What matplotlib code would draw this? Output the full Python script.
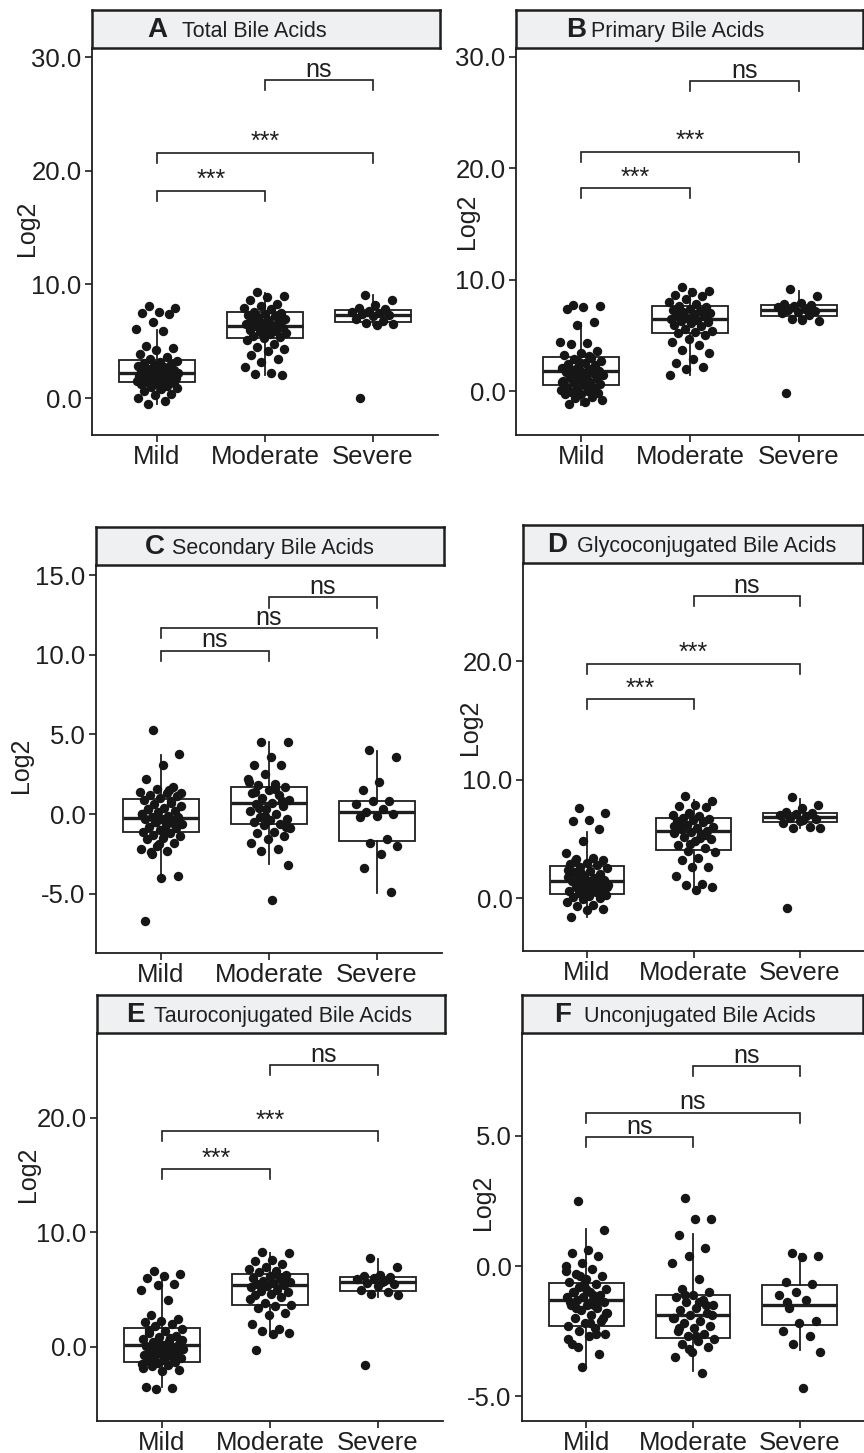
import numpy as np
import matplotlib
import matplotlib.pyplot as plt
from matplotlib.ticker import FormatStrFormatter

plt.rcParams['font.family'] = ['Liberation Sans', 'DejaVu Sans']
plt.rcParams['axes.unicode_minus'] = False

groups = ['Mild', 'Moderate', 'Severe']
ink = '#1f1f1f'

# ---- A: total bile acids
mild_A = [8.1, 7.9, 7.6, 7.5, 7.4, 6.7, 6.1, 5.9, 4.6, 4.4, 4.2, 3.9, 3.6, 3.4, 3.3, 3.2, 3.1, 3.0,
          2.9, 2.8, 2.7, 2.6, 2.5, 2.4, 2.35, 2.3, 2.25, 2.2, 2.15, 2.1, 2.05, 2.0, 1.95, 1.9, 1.85,
          1.8, 1.75, 1.7, 1.65, 1.6, 1.5, 1.45, 1.4, 1.35, 1.3, 1.2, 1.1, 1.0, 0.9, 0.8, 0.6, 0.4,
          0.3, 0.0, -0.3, -0.5]
mod_A = [9.3, 9.0, 8.9, 8.6, 8.3, 8.1, 7.9, 7.8, 7.6, 7.5, 7.4, 7.3, 7.2, 7.1, 7.0, 6.9, 6.8, 6.7,
         6.6, 6.5, 6.4, 6.3, 6.2, 6.1, 6.0, 5.9, 5.8, 5.7, 5.6, 5.5, 5.4, 5.3, 5.1, 4.8, 4.5, 4.3,
         4.1, 3.8, 3.4, 3.2, 2.7, 2.2, 2.1, 2.0]
sev_A = [9.1, 8.6, 8.2, 7.9, 7.8, 7.7, 7.6, 7.5, 7.4, 7.3, 7.2, 7.0, 6.8, 6.6, 6.5, 6.4, 0.0]
# whislo, q1, median, q3, whishi
box_A = [(-0.5, 1.41, 2.2, 3.38, 5.97), (2.0, 5.29, 6.35, 7.59, 9.26), (6.4, 6.68, 7.3, 7.74, 9.06)]
sig_A = [(1, 2, 18.26, '***'), (1, 3, 21.6, '***'), (2, 3, 27.97, 'ns')]

# ---- B: primary bile acids
mild_B = [7.7, 7.6, 7.5, 7.4, 6.2, 5.9, 4.4, 4.3, 4.2, 3.6, 3.4, 3.2, 3.0, 2.9, 2.7, 2.5, 2.4, 2.3,
          2.2, 2.1, 2.0, 1.9, 1.8, 1.75, 1.7, 1.6, 1.5, 1.4, 1.3, 1.2, 1.1, 1.0, 0.9, 0.8, 0.7, 0.6,
          0.5, 0.4, 0.3, 0.2, 0.1, 0.0, -0.1, -0.2, -0.3, -0.3, -0.5, -0.6, -0.8, -1.0, -1.2, 1.5,
          2.6, 0.8, 3.1, 1.9]
mod_B = [9.3, 9.0, 8.9, 8.6, 8.5, 8.3, 8.0, 7.8, 7.6, 7.5, 7.4, 7.3, 7.2, 7.1, 7.0, 6.9, 6.8, 6.7,
         6.6, 6.5, 6.4, 6.3, 6.2, 6.1, 5.9, 5.8, 5.6, 5.4, 5.3, 5.2, 5.0, 4.7, 4.4, 4.1, 3.7, 3.4,
         2.9, 2.5, 2.2, 2.0, 1.4]
sev_B = [9.2, 8.5, 7.9, 7.8, 7.7, 7.6, 7.5, 7.4, 7.3, 7.2, 7.1, 7.0, 6.8, 6.5, 6.3, 6.4, -0.2]
box_B = [(-1.3, 0.57, 1.8, 3.05, 6.1), (1.4, 5.2, 6.5, 7.6, 9.2), (6.3, 6.7, 7.25, 7.75, 9.0)]
sig_B = [(1, 2, 18.2, '***'), (1, 3, 21.5, '***'), (2, 3, 27.8, 'ns')]

# ---- C: secondary bile acids
mild_C = [5.3, 3.8, 3.1, 2.2, 1.7, 1.6, 1.4, 1.3, 1.2, 1.1, 1.0, 0.9, 0.8, 0.6, 0.5, 0.4, 0.3, 0.2,
          0.1, 0.0, -0.1, -0.2, -0.2, -0.3, -0.3, -0.4, -0.5, -0.6, -0.7, -0.8, -0.9, -1.0, -1.1,
          -1.2, -1.3, -1.4, -1.5, -1.6, -1.8, -2.0, -2.2, -2.3, -2.4, -3.9, -4.0, -6.7, 0.7, -0.5,
          1.3, -1.0, 0.3, -0.7, -1.9, 0.0, 1.5, -2.5]
mod_C = [4.5, 4.5, 3.6, 3.1, 3.1, 2.5, 2.2, 1.9, 1.8, 1.7, 1.5, 1.3, 1.2, 1.0, 0.9, 0.7, 0.6, 0.5,
         0.3, 0.2, 0.0, -0.2, -0.3, -0.4, -0.5, -0.6, -0.7, -0.9, -1.1, -1.2, -1.4, -1.6, -1.8,
         -2.2, -2.3, -3.2, -5.4, 1.4, 0.8, -0.1, 2.0, 1.6, 0.4, -0.8]
sev_C = [4.0, 3.6, 2.0, 1.5, 0.8, 0.8, 0.6, 0.3, 0.1, 0.0, -0.1, -0.2, -1.6, -1.8, -2.0, -2.5,
         -3.4, -4.9]
box_C = [(-4.04, -1.11, -0.23, 0.94, 3.7), (-3.16, -0.63, 0.67, 1.72, 4.54), (-4.94, -1.7, 0.1, 0.82, 3.98)]
sig_C = [(1, 2, 10.26, 'ns'), (1, 3, 11.66, 'ns'), (2, 3, 13.6, 'ns')]

# ---- D: glycoconjugated bile acids
mild_D = [7.6, 7.2, 6.6, 6.5, 5.8, 4.8, 3.8, 3.4, 3.3, 3.2, 3.0, 2.9, 2.8, 2.6, 2.5, 2.3, 2.2, 2.0,
          1.9, 1.8, 1.7, 1.6, 1.5, 1.45, 1.4, 1.3, 1.2, 1.1, 1.0, 0.9, 0.8, 0.7, 0.6, 0.5, 0.4, 0.3,
          0.2, 0.1, 0.0, -0.1, -0.3, -0.6, -0.7, -0.9, -1.0, -1.6, 1.5, 2.1, 0.9, 1.2, 3.1, 0.4,
          1.6, 2.4, 0.6, 1.0]
mod_D = [8.6, 8.2, 7.9, 7.8, 7.7, 7.2, 7.0, 6.9, 6.8, 6.7, 6.6, 6.5, 6.4, 6.2, 6.0, 5.9, 5.8, 5.7,
         5.6, 5.5, 5.4, 5.2, 5.0, 4.8, 4.5, 4.2, 4.0, 3.9, 3.4, 3.2, 2.6, 2.6, 1.9, 1.2, 1.1, 0.9,
         0.7, 6.3, 5.3, 4.6, 6.1, 5.1]
sev_D = [8.5, 7.9, 7.6, 7.3, 7.2, 7.1, 7.0, 6.9, 6.8, 6.7, 6.5, 6.3, 6.0, 5.9, 5.9, 6.6, -0.8]
box_D = [(-1.63, 0.34, 1.46, 2.75, 5.6), (0.65, 4.02, 5.7, 6.74, 8.3), (5.9, 6.4, 6.83, 7.16, 8.4)]
sig_D = [(1, 2, 16.8, '***'), (1, 3, 19.8, '***'), (2, 3, 25.5, 'ns')]

# ---- E: tauroconjugated bile acids
mild_E = [6.6, 6.4, 6.2, 6.0, 5.5, 5.4, 5.0, 4.1, 2.8, 2.4, 2.3, 2.2, 2.0, 1.8, 1.6, 1.4, 1.2, 1.0,
          0.9, 0.7, 0.5, 0.4, 0.3, 0.2, 0.1, 0.0, -0.1, -0.2, -0.3, -0.4, -0.5, -0.6, -0.7, -0.8,
          -0.9, -1.0, -1.1, -1.2, -1.3, -1.4, -1.5, -1.6, -1.7, -2.0, -2.1, -3.5, -3.6, -3.7, 0.6,
          -0.5, 1.5, -0.9, 0.2, -1.8, 0.8, -0.3]
mod_E = [8.3, 8.2, 7.6, 7.5, 7.2, 7.0, 6.8, 6.6, 6.5, 6.3, 6.2, 6.0, 5.9, 5.8, 5.7, 5.6, 5.5, 5.4,
         5.3, 5.2, 5.0, 4.9, 4.8, 4.6, 4.5, 4.4, 3.8, 3.7, 3.6, 3.4, 3.0, 2.8, 2.0, 1.6, 1.4, 1.2,
         1.1, -0.3, 6.1, 5.5, 4.2, 6.4]
sev_E = [7.8, 7.0, 6.3, 6.2, 6.1, 6.0, 5.9, 5.8, 5.6, 5.5, 5.3, 5.0, 4.8, 4.6, 4.5, 5.7, -1.6]
box_E = [(-3.5, -1.31, 0.2, 1.66, 6.0), (1.0, 3.7, 5.4, 6.36, 8.2), (4.4, 4.88, 5.7, 6.13, 7.68)]
sig_E = [(1, 2, 15.53, '***'), (1, 3, 18.83, '***'), (2, 3, 24.58, 'ns')]

# ---- F: unconjugated bile acids
mild_F = [2.5, 1.4, 0.6, 0.5, 0.4, 0.1, 0.0, -0.1, -0.3, -0.4, -0.5, -0.6, -0.7, -0.8, -0.9, -1.0,
          -1.0, -1.1, -1.2, -1.2, -1.3, -1.3, -1.4, -1.5, -1.5, -1.6, -1.7, -1.8, -1.9, -2.0, -2.1,
          -2.2, -2.3, -2.4, -2.5, -2.6, -2.7, -3.0, -3.4, -3.9, -0.2, -1.1, -1.6, -2.0, -0.9, -1.4,
          -2.6, -0.4, -1.8, -2.2, -1.0, -1.3, -0.7, -2.8, -1.5, -3.1]
mod_F = [2.6, 1.8, 1.8, 1.2, 0.7, 0.4, 0.1, -0.5, -0.9, -1.0, -1.1, -1.2, -1.3, -1.4, -1.5, -1.6,
         -1.7, -1.8, -1.9, -2.0, -2.1, -2.2, -2.3, -2.4, -2.5, -2.6, -2.7, -2.8, -2.9, -3.0, -3.1,
         -3.3, -3.5, -4.1, -1.1, -1.9, -2.7, -2.4, -1.5, -3.2, -2.0, -1.4]
sev_F = [0.5, 0.4, 0.35, -0.6, -0.7, -1.0, -1.1, -1.3, -1.6, -2.1, -2.2, -2.5, -2.7, -3.0, -3.3,
         -4.7, -1.4]
box_F = [(-3.9, -2.31, -1.32, -0.65, 1.44), (-4.04, -2.77, -1.9, -1.1, 1.24), (-3.24, -2.28, -1.49, -0.72, 0.47)]
sig_F = [(1, 2, 4.96, 'ns'), (1, 3, 5.9, 'ns'), (2, 3, 7.69, 'ns')]

W, H = 864, 1453
fig = plt.figure(figsize=(W / 100, H / 100), dpi=100)


def px_axes(x0, y0, x1, y1):
    return fig.add_axes([x0 / W, 1 - y1 / H, (x1 - x0) / W, (y1 - y0) / H])


# letter, title, data, boxes, sig, yticks, ylim, axes box, strip box, letter x, title x, ylabel centre
panels = [
    ('A', 'Total Bile Acids', (mild_A, mod_A, sev_A), box_A, sig_A, [0, 10, 20, 30], (-3.25, 30.8),
     (92, 48, 438, 435), (92, 10, 440, 48), 147, 182, (27, 228)),
    ('B', 'Primary Bile Acids', (mild_B, mod_B, sev_B), box_B, sig_B, [0, 10, 20, 30], (-3.95, 30.8),
     (516, 48, 864, 435), (516, 10, 863, 48), 566, 591, (467, 221)),
    ('C', 'Secondary Bile Acids', (mild_C, mod_C, sev_C), box_C, sig_C, [-5, 0, 5, 10, 15], (-8.73, 15.64),
     (96, 565, 442, 953), (96, 527, 444, 565), 145, 172, (21, 765)),
    ('D', 'Glycoconjugated Bile Acids', (mild_D, mod_D, sev_D), box_D, sig_D, [0, 10, 20], (-4.47, 28.3),
     (523, 563, 864, 951), (523, 525, 863, 563), 547, 577, (470, 727)),
    ('E', 'Tauroconjugated Bile Acids', (mild_E, mod_E, sev_E), box_E, sig_E, [0, 10, 20], (-6.46, 27.4),
     (97, 1033, 443, 1421), (97, 995, 445, 1033), 126, 154, (28, 1174)),
    ('F', 'Unconjugated Bile Acids', (mild_F, mod_F, sev_F), box_F, sig_F, [-5, 0, 5], (-5.96, 8.96),
     (522, 1033, 864, 1421), (522, 995, 863, 1033), 554, 584, (483, 1202)),
]

for (letter, title, data, boxes, sig, yticks, ylim, abox, sbox, lx, tx, ylab) in panels:
    ax = px_axes(*abox)

    stats = [dict(whislo=b[0], q1=b[1], med=b[2], q3=b[3], whishi=b[4]) for b in boxes]
    ax.bxp(stats, positions=[1, 2, 3], widths=0.7, showfliers=False, showcaps=False,
           patch_artist=True,
           boxprops=dict(facecolor='white', edgecolor=ink, linewidth=1.3),
           medianprops=dict(color=ink, linewidth=2.4),
           whiskerprops=dict(color=ink, linewidth=1.3))

    for i, vals in enumerate(data):
        vals = np.asarray(vals)
        jit = ((np.arange(len(vals)) * 0.618034 + 0.31) % 1 - 0.5) * 0.4
        ax.scatter(i + 1 + jit, vals, s=46, color='#161616', linewidths=0, zorder=3)

    tip = 0.026 * (ylim[1] - ylim[0])
    for x1, x2, y, lab in sig:
        ax.plot([x1, x1, x2, x2], [y - tip, y, y, y - tip], color=ink, lw=1.2,
                solid_joinstyle='miter')
        ax.annotate(lab, ((x1 + x2) / 2, y), xytext=(0, 2.5), textcoords='offset points',
                    ha='center', va='baseline', fontsize=18, color=ink)

    ax.set_xlim(0.4, 3.6)
    ax.set_ylim(*ylim)
    ax.set_xticks([1, 2, 3])
    ax.set_xticklabels(groups)
    ax.set_yticks(yticks)
    ax.yaxis.set_major_formatter(FormatStrFormatter('%.1f'))
    for s in ['top', 'right']:
        ax.spines[s].set_visible(False)
    for s in ['left', 'bottom']:
        ax.spines[s].set_linewidth(1.3)
        ax.spines[s].set_color(ink)
    ax.tick_params(length=5, width=1.2, color=ink, labelsize=18.5, labelcolor=ink, pad=2.5)

    fig.text(ylab[0] / W, 1 - ylab[1] / H, 'Log2', rotation=90, ha='center', va='center',
             fontsize=18, color=ink)

    sx = px_axes(*sbox)
    sx.set_facecolor('#eff0f2')
    sx.set_xticks([])
    sx.set_yticks([])
    for s in sx.spines.values():
        s.set_linewidth(1.8)
        s.set_color(ink)
    base = 1 - ((sbox[1] + sbox[3]) / 2 + 8) / H
    fig.text(lx / W, base, letter, fontsize=20, fontweight='bold', ha='left', va='baseline',
             color=ink)
    fig.text(tx / W, base, title, fontsize=15.5, ha='left', va='baseline', color=ink)

fig.savefig('out.png', dpi=100)
